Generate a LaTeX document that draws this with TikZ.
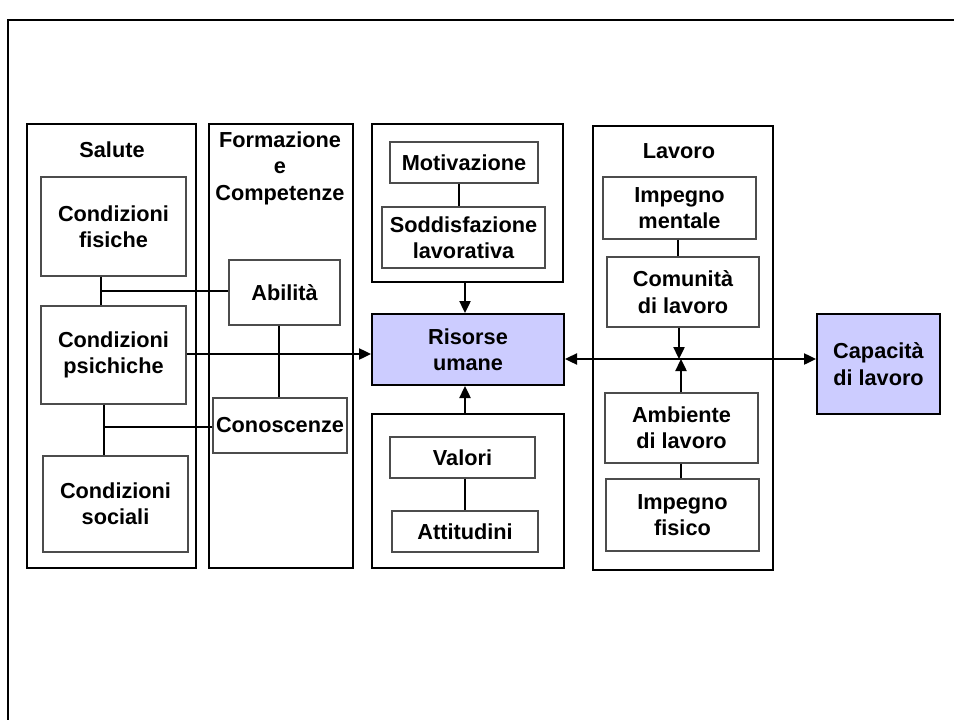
\documentclass[tikz,border=0pt]{standalone}
\usepackage{fontspec}
\setmainfont{Liberation Sans}
\usetikzlibrary{arrows.meta}
\definecolor{lav}{HTML}{CCCCFF}
\begin{document}
\begin{tikzpicture}[x=1bp,y=-1bp,
  font=\fontsize{21.8}{26.5}\selectfont\bfseries,
  grp/.style={draw=black, line width=2.5bp, inner sep=0pt},
  inbox/.style={draw=black!70, line width=1.2bp, inner sep=0pt, align=center, fill=white},
  hub/.style={draw=black, line width=2bp, fill=lav, align=center, inner sep=0pt},
  ttl/.style={align=center, inner sep=0pt},
  lnk/.style={line width=2.4bp},
  arr/.style={line width=2.4bp, -{Triangle[length=12bp,width=11bp]}},
  darr/.style={line width=2.4bp, {Triangle[length=12bp,width=11bp]}-{Triangle[length=12bp,width=11bp]}},
]
\useasboundingbox (0,0) rectangle (954,720);
% outer frame (only left and top visible)
\draw[line width=2bp] (8,720) -- (8,20) -- (954,20);

% group boxes
\node[grp, minimum width=169bp, minimum height=444bp] (sal) at (111.5,346) {};
\node[grp, minimum width=144bp, minimum height=444bp] (for) at (281,346) {};
\node[grp, minimum width=191bp, minimum height=158bp] (top) at (467.5,203) {};
\node[grp, minimum width=192bp, minimum height=154bp] (bot) at (468,491) {};
\node[grp, minimum width=180bp, minimum height=444bp] (lav) at (683,348) {};

% titles
\node[ttl] (tsal) at (112,150) {Salute};
\node[ttl] (tfor) at (280,168) {Formazione\\e\\Competenze};
\node[ttl] (tlav) at (679,151) {Lavoro};

% hubs
\node[hub, minimum width=192bp, minimum height=71bp] (ris) at (468,349.5) {Risorse\\umane};
\node[hub, minimum width=123bp, minimum height=100bp] (cap) at (878.5,364) {Capacità\\di lavoro};

% inner boxes
\node[inbox, minimum width=145bp, minimum height=99bp] (fis) at (113.5,226.5) {Condizioni\\fisiche};
\node[inbox, minimum width=145bp, minimum height=98bp] (psi) at (113.5,355) {Condizioni\\psichiche};
\node[inbox, minimum width=145bp, minimum height=96bp] (soc) at (115.5,504) {Condizioni\\sociali};
\node[inbox, minimum width=111bp, minimum height=65bp] (abi) at (284.5,292.5) {Abilità};
\node[inbox, minimum width=134bp, minimum height=55bp] (con) at (280,425.5) {Conoscenze};
\node[inbox, minimum width=148bp, minimum height=41bp] (mot) at (464,162.5) {Motivazione};
\node[inbox, minimum width=163bp, minimum height=61bp] (sod) at (463.5,237.5) {Soddisfazione\\lavorativa};
\node[inbox, minimum width=145bp, minimum height=41bp] (val) at (462.5,457.5) {Valori};
\node[inbox, minimum width=146bp, minimum height=41bp] (att) at (465,531.5) {Attitudini};
\node[inbox, minimum width=153bp, minimum height=62bp] (men) at (679.5,208) {Impegno\\mentale};
\node[inbox, minimum width=152bp, minimum height=70bp] (com) at (683,292) {Comunità\\di lavoro};
\node[inbox, minimum width=153bp, minimum height=70bp] (amb) at (681.5,428) {Ambiente\\di lavoro};
\node[inbox, minimum width=153bp, minimum height=72bp] (imf) at (682.5,515) {Impegno\\fisico};

% junction coordinates
\coordinate (j1) at (101,291);
\coordinate (j2) at (104,427);
\coordinate (xa) at (279,0);
\coordinate (xm) at (459,0);
\coordinate (xr) at (465,0);
\coordinate (xv) at (465,0);
\coordinate (xc) at (679,0);
\coordinate (xe) at (681,0);
\coordinate (xi) at (678,0);
\coordinate (ym) at (0,359);
\coordinate (yp) at (0,354);

% connectors Salute / Formazione
\draw[lnk] (fis.south -| j1) -- (psi.north -| j1);
\draw[lnk] (j1) -- (abi.west |- j1);
\draw[lnk] (psi.south -| j2) -- (soc.north -| j2);
\draw[lnk] (j2) -- (con.west |- j2);
\draw[lnk] (abi.south -| xa) -- (con.north -| xa);
\draw[arr] (psi.east |- yp) -- (ris.west |- yp);

% top & bottom groups
\draw[lnk] (mot.south -| xm) -- (sod.north -| xm);
\draw[lnk] (val.south -| xv) -- (att.north -| xv);
\draw[arr] (top.south -| xr) -- (ris.north -| xr);
\draw[arr] (bot.north -| xr) -- (ris.south -| xr);

% Lavoro
\draw[lnk] (men.south -| xi) -- (com.north -| xi);
\draw[lnk] (amb.south -| xe) -- (imf.north -| xe);
\draw[arr] (com.south -| xc) -- (xc |- ym);
\draw[arr] (amb.north -| xe) -- (xe |- ym);
\draw[darr] (ris.east |- ym) -- (cap.west |- ym);
\end{tikzpicture}
\end{document}
